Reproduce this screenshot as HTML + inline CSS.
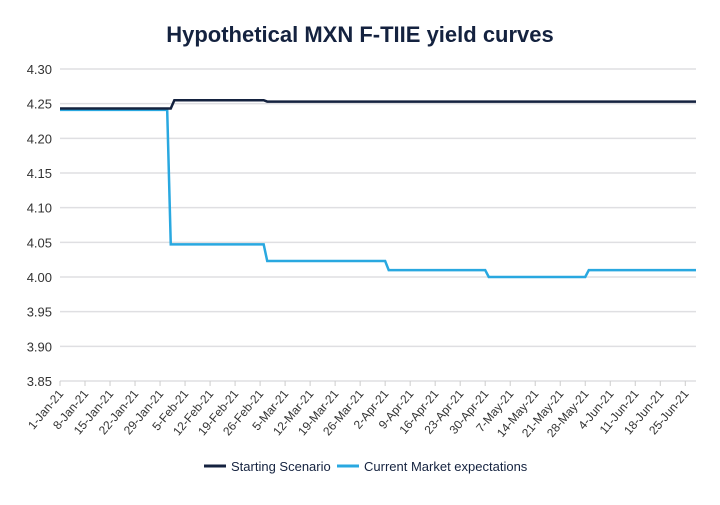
<!DOCTYPE html>
<html><head><meta charset="utf-8"><style>
body{margin:0;background:#fff;width:720px;height:500px;overflow:hidden;font-family:"Liberation Sans",sans-serif}
</style></head><body>
<svg id="chart" width="720" height="500">
<text x="360" y="42" text-anchor="middle" font-size="22" font-weight="bold" fill="#14223f">Hypothetical MXN F-TIIE yield curves</text>
<g id="grid"></g><g id="xaxis"></g><g id="lines"></g>
<g>
<line x1="204" y1="466" x2="226" y2="466" stroke="#14223f" stroke-width="3"/>
<text x="231" y="471" font-size="13" fill="#14223f">Starting Scenario</text>
<line x1="337" y1="466" x2="359" y2="466" stroke="#29a8e0" stroke-width="3"/>
<text x="364" y="471" font-size="13" fill="#14223f">Current Market expectations</text>
</g>
</svg>
<script>
const yTicks=[3.85,3.90,3.95,4.00,4.05,4.10,4.15,4.20,4.25,4.30];
const xTickLabels=["1-Jan-21","8-Jan-21","15-Jan-21","22-Jan-21","29-Jan-21","5-Feb-21","12-Feb-21","19-Feb-21","26-Feb-21","5-Mar-21","12-Mar-21","19-Mar-21","26-Mar-21","2-Apr-21","9-Apr-21","16-Apr-21","23-Apr-21","30-Apr-21","7-May-21","14-May-21","21-May-21","28-May-21","4-Jun-21","11-Jun-21","18-Jun-21","25-Jun-21"];
const totalDays=178;
const startDays=[0,31,32,57,58,178];
const startVals=[4.243,4.243,4.255,4.255,4.253,4.253];
const currDays=[0,30,31,57,58,91,92,119,120,147,148,178];
const currVals=[4.241,4.241,4.047,4.047,4.023,4.023,4.010,4.010,4.000,4.000,4.010,4.010];
const NS="http://www.w3.org/2000/svg";
const X0=60,X1=696,Y0=381,Y1=69;
const x=d=>X0+d*(X1-X0)/totalDays;
const y=v=>Y0-(v-3.85)/(0.45)*(Y0-Y1);
function mk(t,a,p){const e=document.createElementNS(NS,t);for(const k in a)e.setAttribute(k,a[k]);p.appendChild(e);return e;}
const grid=document.getElementById('grid');
yTicks.forEach(v=>{
 const l=mk('line',{x1:X0,x2:X1,y1:y(v),y2:y(v),stroke:'#dfdfe2','stroke-width':1.5},grid);
 
 
 const t=mk('text',{x:52,y:y(v)+5,'text-anchor':'end','font-size':13,fill:'#333'},grid);
 t.textContent=v.toFixed(2);
 
 
});
const xa=document.getElementById('xaxis');
xTickLabels.forEach((s,i)=>{
 const px=x(i*7);
 const tk=mk('line',{x1:px,x2:px,y1:Y0,y2:Y0+5,stroke:'#ccc'},xa);
 
 
 const t=mk('text',{x:px+4,y:Y0+13,'text-anchor':'end','font-size':12,fill:'#333',transform:`rotate(-50 ${px+4} ${Y0+13})`},xa);
 t.textContent=s;
 
 
});
const lines=document.getElementById('lines');
function series(ds,vs,c,n){
 const p=mk('polyline',{points:ds.map((d,i)=>x(d)+','+y(vs[i])).join(' '),fill:'none',stroke:c,'stroke-width':2.5},lines);
 
 
}
series(currDays,currVals,'#29a8e0','current-market-line');
series(startDays,startVals,'#14223f','starting-scenario-line');
</script>
</body></html>
